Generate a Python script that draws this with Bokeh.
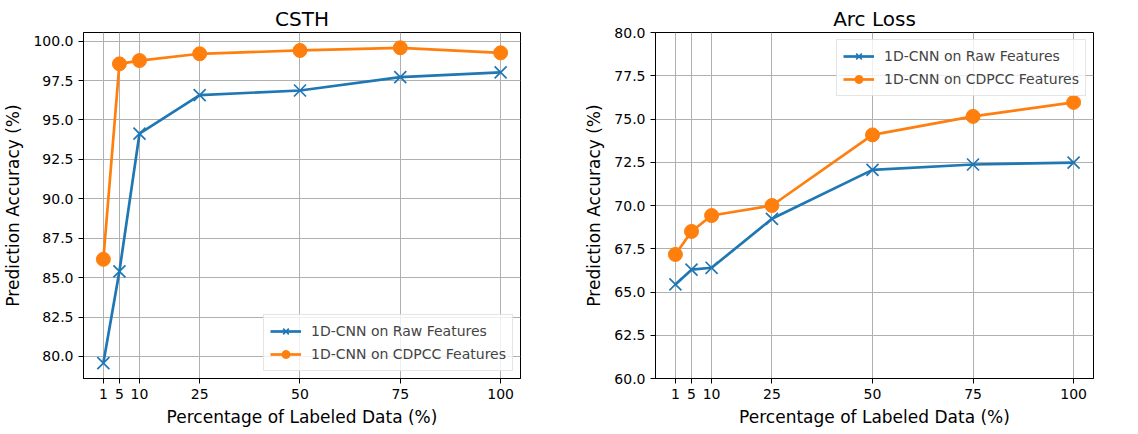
from bokeh.plotting import figure
from bokeh.layouts import row
from bokeh.models import Range1d, FixedTicker, PrintfTickFormatter
from bokeh.embed import file_html
from bokeh.resources import INLINE

# ---- data ----
labeled_pct = [1, 5, 10, 25, 50, 75, 100]
x_tick_labels = [1, 5, 10, 25, 50, 75, 100]

csth_raw = [79.58, 85.40, 94.13, 96.58, 96.87, 97.72, 98.02]
csth_cdpcc = [86.16, 98.56, 98.77, 99.20, 99.41, 99.58, 99.26]

arc_raw = [65.44, 66.29, 66.40, 69.23, 72.06, 72.37, 72.48]
arc_cdpcc = [67.17, 68.50, 69.42, 70.00, 74.08, 75.15, 75.96]

csth_yticks = [80.0, 82.5, 85.0, 87.5, 90.0, 92.5, 95.0, 97.5, 100.0]
arc_yticks = [60.0, 62.5, 65.0, 67.5, 70.0, 72.5, 75.0, 77.5, 80.0]

series_names = ["1D-CNN on Raw Features", "1D-CNN on CDPCC Features"]
BLUE = "#1f77b4"
ORANGE = "#ff7f0e"
FONT = "DejaVu Sans"


def make_fig(title, raw, cdpcc, yticks, yrange, legend_loc, borders):
    bl, br = borders
    p = figure(width=569, height=434, output_backend="svg", toolbar_location=None,
               x_range=Range1d(-3.95, 104.95), y_range=Range1d(*yrange),
               min_border_left=bl, min_border_right=br,
               min_border_top=32, min_border_bottom=56)
    p.title.text = title
    p.title.align = "center"
    p.title.text_font = FONT
    p.title.text_font_size = "20px"
    p.title.text_font_style = "normal"
    p.title.text_color = "black"
    p.title.offset = 0
    p.title.standoff = 4

    p.outline_line_color = "black"
    p.outline_line_width = 1
    p.outline_line_alpha = 1

    for ax in (p.xaxis[0], p.yaxis[0]):
        ax.axis_line_color = "black"
        ax.major_tick_line_color = "black"
        ax.major_tick_out = 5
        ax.major_tick_in = 0
        ax.minor_tick_line_color = None
        ax.major_label_text_font = FONT
        ax.major_label_text_font_size = "14px"
        ax.major_label_text_color = "black"
        ax.axis_label_text_font = FONT
        ax.axis_label_text_font_size = "17px"
        ax.axis_label_text_font_style = "normal"
        ax.axis_label_text_color = "black"
        ax.major_label_standoff = 5

    p.xaxis.ticker = FixedTicker(ticks=x_tick_labels)
    p.yaxis.ticker = FixedTicker(ticks=yticks)
    p.yaxis.formatter = PrintfTickFormatter(format="%.1f")
    p.xaxis.axis_label = "Percentage of Labeled Data (%)"
    p.yaxis.axis_label = "Prediction Accuracy (%)"
    p.xaxis.axis_label_standoff = 5
    p.yaxis.axis_label_standoff = 7

    p.xgrid.ticker = FixedTicker(ticks=x_tick_labels)
    p.ygrid.ticker = FixedTicker(ticks=yticks)
    for g in (p.xgrid[0], p.ygrid[0]):
        g.grid_line_color = "#b0b0b0"
        g.grid_line_width = 1

    p.line(labeled_pct, raw, line_color=BLUE, line_width=2.7, legend_label=series_names[0])
    p.scatter(labeled_pct, raw, marker="x", size=17, line_color=BLUE, line_width=1.7,
              legend_label=series_names[0])
    p.line(labeled_pct, cdpcc, line_color=ORANGE, line_width=2.7, legend_label=series_names[1])
    p.scatter(labeled_pct, cdpcc, marker="circle", size=14, fill_color=ORANGE,
              line_color=ORANGE, legend_label=series_names[1])

    lg = p.legend[0]
    lg.location = legend_loc
    lg.margin = 7
    lg.padding = 6
    lg.spacing = 3
    lg.glyph_width = 31
    lg.glyph_height = 20
    lg.label_text_font = FONT
    lg.label_text_font_size = "14px"
    lg.label_standoff = 10
    lg.border_line_color = "#cccccc"
    lg.border_line_width = 1
    lg.background_fill_color = "white"
    lg.background_fill_alpha = 0.8
    return p


p1 = make_fig("CSTH", csth_raw, csth_cdpcc, csth_yticks, (78.6, 100.55), "bottom_right", (83, 49))
p2 = make_fig("Arc Loss", arc_raw, arc_cdpcc, arc_yticks, (60.0, 80.0), "top_right", (86, 45))

layout = row(p1, p2)
open("out.html", "w").write(file_html(layout, INLINE))
